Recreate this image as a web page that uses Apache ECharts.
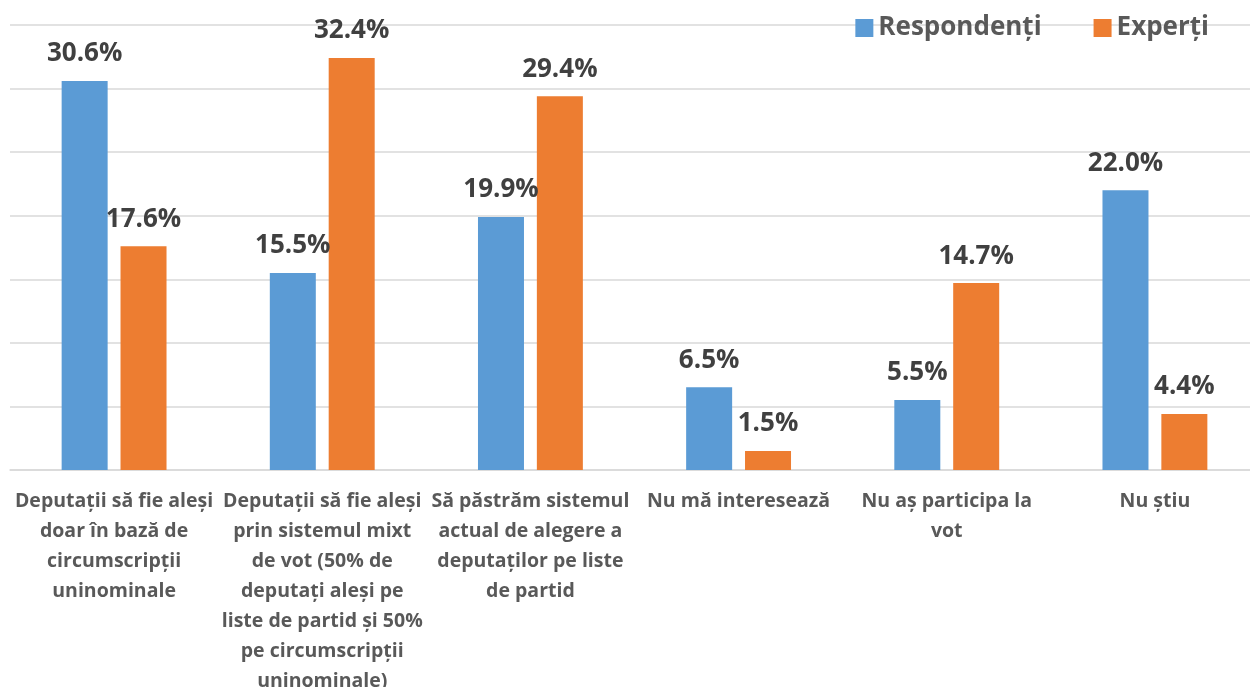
<!DOCTYPE html>
<html><head><meta charset="utf-8">
<script src="https://cdn.jsdelivr.net/npm/echarts@6/dist/echarts.min.js"></script>
<style>html,body{margin:0;padding:0;background:#fff}#c{width:1250px;height:687px}</style>
</head><body><div id="c"></div>
<script>
var categories = [
  "Deputații să fie aleși\ndoar în bază de\ncircumscripții\nuninominale",
  "Deputații să fie aleși\nprin sistemul mixt\nde vot (50% de\ndeputați aleși pe\nliste de partid și 50%\npe circumscripții\nuninominale)",
  "Să păstrăm sistemul\nactual de alegere a\ndeputaților pe liste\nde partid",
  "Nu mă interesează",
  "Nu aș participa la\nvot",
  "Nu știu"
];
var respondenti = [30.6, 15.5, 19.9, 6.5, 5.5, 22.0];
var experti = [17.6, 32.4, 29.4, 1.5, 14.7, 4.4];
var seriesNames = ["Respondenți", "Experți"];

var FONT = "'Open Sans', sans-serif";
var chart = echarts.init(document.getElementById('c'));
var lbl = {
  show: true, position: 'top', distance: 14,
  fontFamily: FONT, fontWeight: 'bold', fontSize: 26, color: '#404040',
  formatter: function (p) { return p.value.toFixed(1) + '%'; }
};
chart.setOption({
  animation: false,
  legend: {
    data: seriesNames, right: 36, top: 10, itemWidth: 18, itemHeight: 18, itemGap: 52,
    icon: 'rect',
    textStyle: { fontFamily: FONT, fontWeight: 'bold', fontSize: 26, color: '#595959' }
  },
  grid: { left: 10, top: 25, width: 1249, height: 445, outerBoundsMode: 'none', containLabel: false },
  xAxis: {
    type: 'category', data: categories,
    axisLine: { lineStyle: { color: '#d9d9d9', width: 1.5 } },
    axisTick: { show: false },
    axisLabel: {
      interval: 0, lineHeight: 30, margin: 16,
      fontFamily: FONT, fontWeight: 'bold', fontSize: 19.5, color: '#595959'
    }
  },
  yAxis: {
    type: 'value', min: 0, max: 35, interval: 5,
    axisLabel: { show: false }, axisLine: { show: false }, axisTick: { show: false },
    splitLine: { lineStyle: { color: '#d9d9d9', width: 1.5 } }
  },
  series: [
    { name: seriesNames[0], type: 'bar', data: respondenti, barWidth: 46, barGap: '28%',
      itemStyle: { color: '#5b9bd5' }, label: lbl },
    { name: seriesNames[1], type: 'bar', data: experti, barWidth: 46,
      itemStyle: { color: '#ed7d31' }, label: lbl }
  ]
});
</script></body></html>
